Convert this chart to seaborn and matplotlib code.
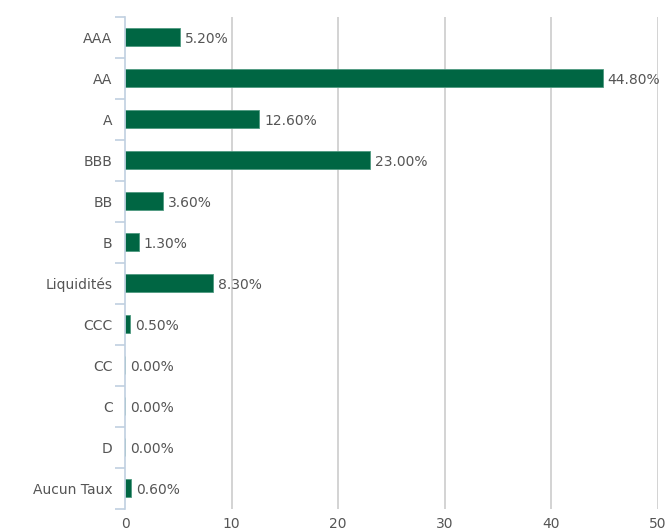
import numpy as np
import pandas as pd
import seaborn as sns
import matplotlib.pyplot as plt

# Répartition par notation
categories = ['AAA', 'AA', 'A', 'BBB', 'BB', 'B', 'Liquidités', 'CCC', 'CC', 'C', 'D', 'Aucun Taux']
values = [5.2, 44.8, 12.6, 23.0, 3.6, 1.3, 8.3, 0.5, 0.0, 0.0, 0.0, 0.6]
x_ticks = [0, 10, 20, 30, 40, 50]

data = pd.DataFrame({'notation': categories, 'poids': values})

sns.set_style("white")
plt.rcParams['font.family'] = ['DejaVu Sans']

fig = plt.figure(figsize=(6.68, 5.30), dpi=100)
ax = fig.add_axes([125 / 668, 1 - 508.5 / 530, 533 / 668, 492 / 530])

sns.barplot(data=data, x='poids', y='notation', orient='h', color='#006643',
            saturation=1, width=0.44, edgecolor='#4f9a80', linewidth=0.6, ax=ax)

ax.set_xlim(0, 50)
ax.set_ylim(len(categories) - 0.5, -0.5)
ax.set_xticks(x_ticks)
ax.set_xticklabels([str(t) for t in x_ticks])
ax.set_xlabel('')
ax.set_ylabel('')

# vertical grid lines
for t in x_ticks[1:]:
    ax.axvline(t, color='#cccccc', linewidth=1.2, zorder=0)

for s in ['top', 'right', 'bottom']:
    ax.spines[s].set_visible(False)
ax.spines['left'].set_color('#c0d0e0')
ax.spines['left'].set_linewidth(1.2)

ax.tick_params(axis='x', length=0, pad=6, labelsize=10, labelcolor='#555555')
ax.tick_params(axis='y', which='major', length=0, pad=9, labelsize=10, labelcolor='#555555')
ax.set_yticks(np.arange(-0.5, len(categories), 1), minor=True)
ax.tick_params(axis='y', which='minor', left=True, length=7, width=1.2, color='#c0d0e0')

for i, v in enumerate(values):
    ax.text(v + 0.45, i + 0.06, f'{v:.2f}%', va='center', ha='left',
            fontsize=10, color='#555555')

fig.savefig('out.png', dpi=100)
